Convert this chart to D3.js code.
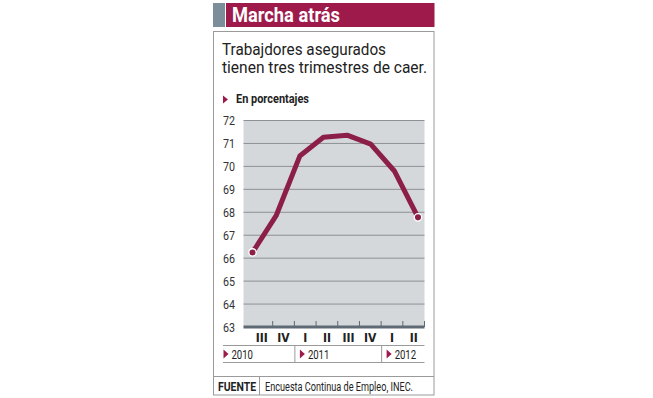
<!DOCTYPE html>
<html><head><meta charset="utf-8">
<script src="https://cdn.jsdelivr.net/npm/d3@7"></script>
<style>
body{margin:0;background:#fff;}
svg{display:block;}
</style></head>
<body><svg id="c" width="653" height="398"></svg>
<script>
const quarters = ["III","IV","I","II","III","IV","I","II"];
const values = [66.25, 67.85, 70.45, 71.27, 71.36, 70.97, 69.8, 67.78];
const years = ["2010","2011","2012"];
const yearSpans = [2, 4, 2];
const yTicks = [63,64,65,66,67,68,69,70,71,72];
const title = "Marcha atrás";
const subtitle = ["Trabajdores asegurados","tienen tres trimestres de caer."];
const unitLabel = "En porcentajes";
const sourceLabel = "FUENTE";
const sourceText = "Encuesta Continua de Empleo, INEC.";

const crimson = "#9d1a4a", lineCol = "#8c1f48";
const svg = d3.select("#c");
const rob = "Roboto,'DejaVu Sans',sans-serif";
const cond = "'DejaVu Sans Condensed',Roboto,sans-serif";

function txt(x, y, s, o){
  const t = svg.append("text").attr("x",x).attr("y",y).text(s)
    .attr("font-family",o.family||rob).attr("font-size",o.size||12)
    .attr("font-weight",o.weight||"normal").attr("fill",o.fill||"#222")
    .attr("text-anchor",o.anchor||"start");
  if(o.len){ t.attr("textLength",o.len).attr("lengthAdjust","spacingAndGlyphs"); }
  return t;
}

// header
svg.append("rect").attr("x",213).attr("y",3).attr("width",12).attr("height",24).attr("fill","#7d8e9b");
svg.append("rect").attr("x",226).attr("y",3).attr("width",208.5).attr("height",24).attr("fill",crimson);
txt(232, 21.5, title, {size:20.5, weight:"bold", fill:"#fff", len:108});

// box
svg.append("rect").attr("x",213.5).attr("y",31.5).attr("width",220.5).attr("height",363.5)
  .attr("fill","none").attr("stroke","#9a9a9a").attr("stroke-width",1);

// subtitle
txt(222, 55, subtitle[0], {size:16, fill:"#222", len:164});
txt(222, 72.5, subtitle[1], {size:16, fill:"#222", len:205});

// unit label
svg.append("path").attr("d","M223,95.5 L228,99.5 L223,103.5 Z").attr("fill",crimson);
txt(236, 103, unitLabel, {size:12.5, weight:"bold", len:73});

// scales
const y = d3.scaleLinear().domain([63,72]).range([327,120.5]);
const xPts = d3.scalePoint().domain(d3.range(values.length)).range([252.5,418]);
const xBand = d3.scaleBand().domain(d3.range(quarters.length)).range([251,424.5]);

// plot bg
svg.append("rect").attr("x",243.5).attr("y",y(72)).attr("width",181).attr("height",y(63)-y(72)).attr("fill","#d5d8db");

// grid
svg.append("g").selectAll("line").data(yTicks.slice(1)).join("line")
  .attr("x1",243.5).attr("x2",424.5).attr("y1",d=>y(d)).attr("y2",d=>y(d))
  .attr("stroke","#8d9094").attr("stroke-width",1);

// y labels
yTicks.forEach(d=>txt(235, y(d)+4.5, String(d), {size:13.5, anchor:"end", fill:"#333", len:12}));

// x axis baseline and ticks
svg.append("line").attr("x1",243.5).attr("x2",424.5).attr("y1",327).attr("y2",327)
  .attr("stroke","#5e6a74").attr("stroke-width",3);
svg.append("g").selectAll("line").data(d3.range(1,quarters.length+1)).join("line")
  .attr("x1",d=>xBand(d-1)+xBand.bandwidth()).attr("x2",d=>xBand(d-1)+xBand.bandwidth())
  .attr("y1",321).attr("y2",327).attr("stroke","#5e6a74").attr("stroke-width",1);

// quarter labels
svg.append("g").selectAll("text").data(quarters).join("text")
  .attr("x",(d,i)=>xBand(i)+xBand.bandwidth()/2).attr("y",341.5).attr("text-anchor","middle")
  .attr("font-family",cond).attr("font-weight","bold").attr("font-size",12).attr("fill","#222").text(d=>d);

// year row
svg.append("line").attr("x1",223).attr("x2",424.5).attr("y1",345.5).attr("y2",345.5).attr("stroke","#9a9a9a");
svg.append("line").attr("x1",223).attr("x2",424.5).attr("y1",362.5).attr("y2",362.5).attr("stroke","#9a9a9a");
let acc = 0;
const starts = yearSpans.map(s=>{const v=acc; acc+=s; return v;});
years.forEach((yr,i)=>{
  const x0 = i===0 ? 218 : xBand(starts[i]);
  if(i>0) svg.append("line").attr("x1",x0+0.5).attr("x2",x0+0.5).attr("y1",345.5).attr("y2",362.5).attr("stroke","#9a9a9a");
  svg.append("path").attr("d",`M${x0+5.5},349.5 L${x0+10.5},354 L${x0+5.5},358.5 Z`).attr("fill",crimson);
  txt(x0+13.5, 359, yr, {size:12.5, len:21.5});
});

// line
svg.append("path").datum(values)
  .attr("d",d3.line().x((d,i)=>xPts(i)).y(d=>y(d)))
  .attr("fill","none").attr("stroke",lineCol).attr("stroke-width",5).attr("stroke-linejoin","round");
[0, values.length-1].forEach(i=>svg.append("circle").attr("cx",xPts(i)).attr("cy",y(values[i])).attr("r",3.7)
  .attr("fill",lineCol).attr("stroke","#fff").attr("stroke-width",1.3));

// footer
svg.append("line").attr("x1",213.5).attr("x2",434).attr("y1",376.5).attr("y2",376.5).attr("stroke","#9a9a9a");
svg.append("line").attr("x1",259.5).attr("x2",259.5).attr("y1",376.5).attr("y2",395).attr("stroke","#9a9a9a");
txt(218, 391, sourceLabel, {size:12.5, weight:"bold", len:38});
txt(265, 391, sourceText, {size:12.5, len:148});
</script></body></html>
